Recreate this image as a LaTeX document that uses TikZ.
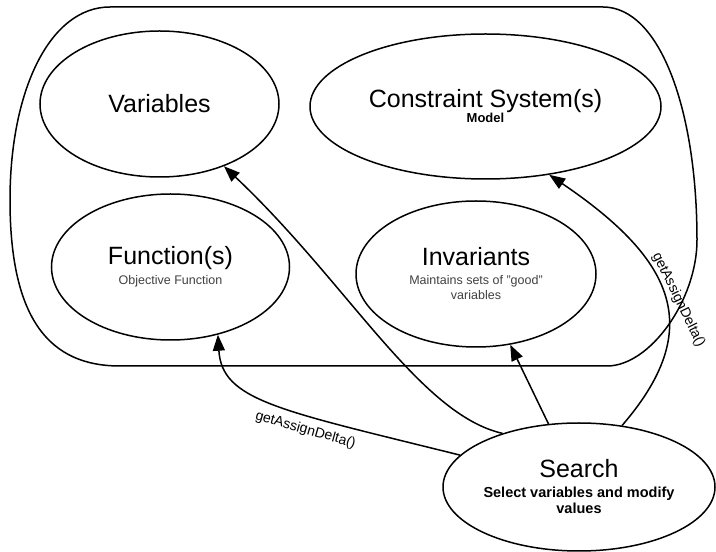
\documentclass[tikz,border=0pt]{standalone}
\usepackage{fontspec}
\setmainfont{Liberation Sans}
\usetikzlibrary{shapes.geometric, arrows.meta}

\newcommand{\elltitle}[1]{{\fontsize{25}{25}\selectfont #1}}
\newcommand{\ellnote}[1]{{\color{black!75}\fontsize{12.5}{15}\selectfont #1}}
\newcommand{\ellbold}[2]{{\bfseries\fontsize{#1}{#1}\selectfont #2}}

\begin{document}
\begin{tikzpicture} [
        x = 1pt, y = 1pt,
        ell/.style = { draw, ellipse, line width = 1.5pt, inner sep = 0, align = center,
                font = \fontsize{12.5}{15}\selectfont },
        arr/.style = { line width = 1.5pt, -{Triangle[length = 16pt, width = 12pt]} },
        lbl/.style = { font = \fontsize{14}{16}\selectfont, inner sep = 0 }
        ]
        \useasboundingbox (0,0) rectangle (716,552);

        \draw [line width = 1.5pt] (110,545) -- (603,545)
        .. controls (660,545) and (697,442) .. (697,312)
        .. controls (697,252) and (650,186) .. (607,186) -- (120,186)
        .. controls (50,186) and (10,232) .. (10,352)
        .. controls (10,462) and (50,545) .. (110,545) -- cycle;

        \node [ell, minimum width = 239pt, minimum height = 146pt] (var) at (159.5,448)
        {\elltitle{Variables}};
        \node [ell, minimum width = 351pt, minimum height = 145pt] (cons) at (485.5,445.5)
        {\elltitle{Constraint System(s)}\\[0pt]\ellbold{13}{Model}};
        \node [ell, minimum width = 238pt, minimum height = 146pt] (fun) at (170.5,285)
        {\elltitle{Function(s)}\\[5pt]\ellnote{Objective Function}};
        \node [ell, minimum width = 240pt, minimum height = 146pt] (inv) at (476,278)
        {\elltitle{Invariants}\\[4pt]\ellnote{Maintains sets of "good"}\\\ellnote{variables}};
        \node [ell, minimum width = 272pt, minimum height = 128pt] (search) at (579,65)
        {\elltitle{Search}\\[5pt]\ellbold{14.5}{Select variables and modify}\\[1pt]\ellbold{14.5}{values}};

        \draw [arr] (search.145) .. controls +(-83,19) and +(124,-117) .. (var.-44);
        \draw [arr] (search.165) .. controls +(-181,45) and +(4,-66) .. (fun.-55);
        \draw [arr] (search) -- (inv);
        \draw [arr] (search.55) .. controls +(83,96) and +(127,-86) .. (cons.-47);

        \node [lbl, rotate = -16] (deltafun) at (305.5,122) {getAssignDelta()};
        \node [lbl, rotate = -64] (deltacons) at (678.5,252) {getAssignDelta()};
\end{tikzpicture}
\end{document}
